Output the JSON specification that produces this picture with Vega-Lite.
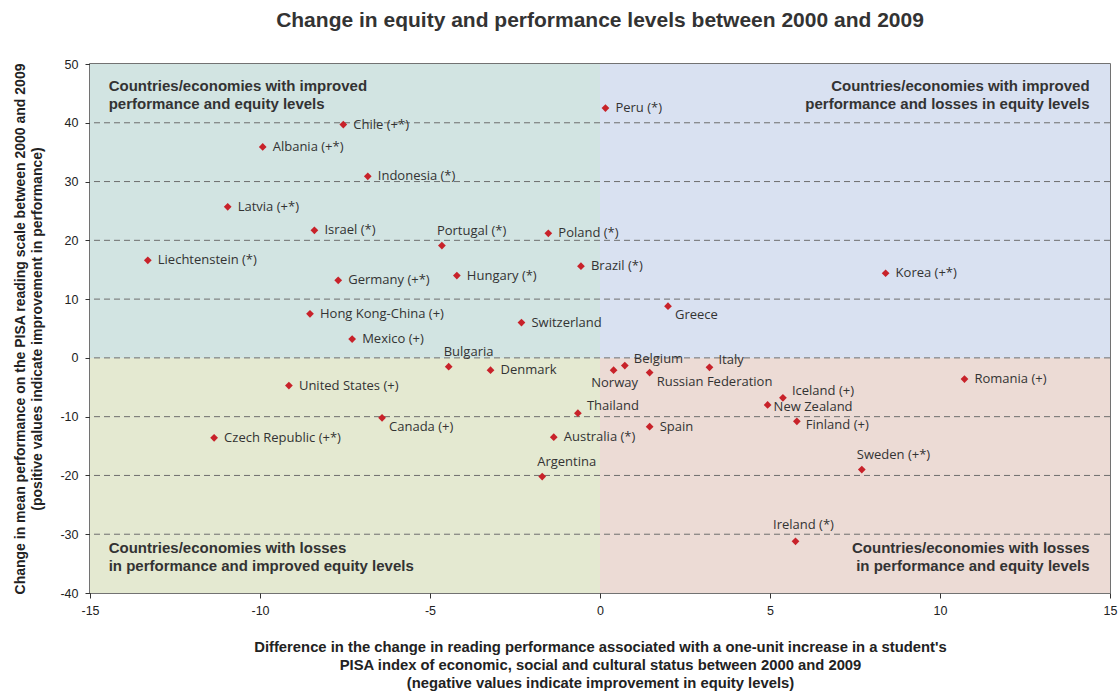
{
  "$schema": "https://vega.github.io/schema/vega-lite/v6.json",
  "autosize": "none",
  "width": 1020,
  "height": 529,
  "padding": {"left": 90, "top": 64, "right": 9, "bottom": 100},
  "background": "white",
  "config": {
    "view": {"stroke": "#444", "strokeWidth": 1.5},
    "font": "Liberation Sans"
  },
  "title": {
    "text": "Change in equity and performance levels between 2000 and 2009",
    "fontSize": 21,
    "fontWeight": "bold",
    "font": "Liberation Sans",
    "color": "#333",
    "offset": 27,
    "anchor": "middle"
  },
  "datasets": {
    "countries": [
      {"country": "Chile (+*)", "equity": -7.55, "perf": 39.7},
      {"country": "Albania (+*)", "equity": -9.92, "perf": 35.9},
      {"country": "Indonesia (*)", "equity": -6.83, "perf": 30.9},
      {"country": "Latvia (+*)", "equity": -10.95, "perf": 25.7},
      {"country": "Israel (*)", "equity": -8.4, "perf": 21.7},
      {"country": "Portugal (*)", "equity": -4.65, "perf": 19.1},
      {"country": "Poland (*)", "equity": -1.52, "perf": 21.2},
      {"country": "Liechtenstein (*)", "equity": -13.3, "perf": 16.6},
      {"country": "Brazil (*)", "equity": -0.56, "perf": 15.6},
      {"country": "Germany (+*)", "equity": -7.7, "perf": 13.2},
      {"country": "Hungary (*)", "equity": -4.21, "perf": 14.0},
      {"country": "Hong Kong-China (+)", "equity": -8.53, "perf": 7.5},
      {"country": "Switzerland", "equity": -2.31, "perf": 6.0},
      {"country": "Mexico (+)", "equity": -7.29, "perf": 3.2},
      {"country": "Peru (*)", "equity": 0.16, "perf": 42.5},
      {"country": "Korea (+*)", "equity": 8.4, "perf": 14.4},
      {"country": "Greece", "equity": 2.0, "perf": 8.8},
      {"country": "Bulgaria", "equity": -4.45, "perf": -1.5},
      {"country": "Denmark", "equity": -3.22, "perf": -2.1},
      {"country": "United States (+)", "equity": -9.15, "perf": -4.7},
      {"country": "Canada (+)", "equity": -6.41, "perf": -10.2},
      {"country": "Czech Republic (+*)", "equity": -11.35, "perf": -13.6},
      {"country": "Thailand", "equity": -0.65, "perf": -9.4},
      {"country": "Australia (*)", "equity": -1.36, "perf": -13.5},
      {"country": "Argentina", "equity": -1.7, "perf": -20.2},
      {"country": "Norway", "equity": 0.4, "perf": -2.1},
      {"country": "Belgium", "equity": 0.73, "perf": -1.3},
      {"country": "Russian Federation", "equity": 1.46, "perf": -2.5},
      {"country": "Italy", "equity": 3.22, "perf": -1.6},
      {"country": "Romania (+)", "equity": 10.72, "perf": -3.6},
      {"country": "Iceland (+)", "equity": 5.38, "perf": -6.8},
      {"country": "New Zealand", "equity": 4.93, "perf": -8.0},
      {"country": "Finland (+)", "equity": 5.79, "perf": -10.8},
      {"country": "Spain", "equity": 1.46, "perf": -11.7},
      {"country": "Sweden (+*)", "equity": 7.7, "perf": -19.0},
      {"country": "Ireland (*)", "equity": 5.75, "perf": -31.2}
    ],
    "quadrants": [
      {"q": "TL", "x1": -15, "x2": 0, "y1": 0, "y2": 50},
      {"q": "TR", "x1": 0, "x2": 15, "y1": 0, "y2": 50},
      {"q": "BL", "x1": -15, "x2": 0, "y1": -40, "y2": 0},
      {"q": "BR", "x1": 0, "x2": 15, "y1": -40, "y2": 0}
    ],
    "grid": [{"v": 40}, {"v": 30}, {"v": 20}, {"v": 10}, {"v": 0}, {"v": -10}, {"v": -20}, {"v": -30}],
    "qlabels": [
      {"side": "left", "x": -14.45, "y": 46.2, "label": "Countries/economies with improved\nperformance and equity levels"},
      {"side": "right", "x": 14.4, "y": 46.2, "label": "Countries/economies with improved\nperformance and losses in equity levels"},
      {"side": "left", "x": -14.45, "y": -32.3, "label": "Countries/economies with losses\nin performance and improved equity levels"},
      {"side": "right", "x": 14.4, "y": -32.3, "label": "Countries/economies with losses\nin performance and equity levels"}
    ]
  },
  "encoding": {
    "x": {
      "type": "quantitative",
      "scale": {"domain": [-15, 15], "nice": false, "zero": false},
      "axis": {
        "values": [-15, -10, -5, 0, 5, 10, 15],
        "labelExpr": "'' + datum.value",
        "grid": false,
        "domain": false,
        "tickColor": "#333",
        "tickSize": 5,
        "labelFontSize": 12.5,
        "labelColor": "#222",
        "labelPadding": 6,
        "labelFlush": false,
        "title": [
          "Difference in the change in reading performance associated with a one-unit increase in a student's",
          "PISA index of economic, social and cultural status between 2000 and 2009",
          "(negative values indicate improvement in equity levels)"
        ],
        "titleFontSize": 14.8,
        "titleFontWeight": "bold",
        "titleFont": "Liberation Sans",
        "titleColor": "#222",
        "titlePadding": 23,
        "titleLineHeight": 18
      }
    },
    "y": {
      "type": "quantitative",
      "scale": {"domain": [-40, 50], "nice": false, "zero": false},
      "axis": {
        "values": [-40, -30, -20, -10, 0, 10, 20, 30, 40, 50],
        "labelExpr": "'' + datum.value",
        "grid": false,
        "domain": false,
        "tickColor": "#333",
        "tickSize": 5,
        "labelFontSize": 12.5,
        "labelColor": "#222",
        "labelPadding": 7,
        "labelFlush": false,
        "title": [
          "Change in mean performance on the PISA reading scale between 2000 and 2009",
          "(positive values indicate improvement in performance)"
        ],
        "titleFontSize": 14,
        "titleFontWeight": "bold",
        "titleFont": "Liberation Sans",
        "titleColor": "#222",
        "titlePadding": 15,
        "titleLineHeight": 17
      }
    }
  },
  "layer": [
    {
      "data": {"name": "quadrants"},
      "mark": {"type": "rect"},
      "encoding": {
        "x": {"field": "x1"},
        "x2": {"field": "x2"},
        "y": {"field": "y1"},
        "y2": {"field": "y2"},
        "color": {
          "field": "q",
          "type": "nominal",
          "scale": {"domain": ["TL", "TR", "BL", "BR"], "range": ["#d2e4e2", "#d9e1f1", "#e4e9d1", "#ecdbd5"]},
          "legend": null
        }
      }
    },
    {
      "data": {"name": "grid"},
      "mark": {"type": "rule", "stroke": "#6e6e6e", "strokeDash": [6, 4], "strokeWidth": 1},
      "encoding": {"y": {"field": "v"}}
    },
    {
      "data": {"name": "qlabels"},
      "transform": [{"filter": "datum.side == 'left'"}],
      "mark": {"type": "text", "align": "left", "baseline": "middle", "lineBreak": "\n", "lineHeight": 18, "fontSize": 15, "fontWeight": "bold", "font": "Liberation Sans", "color": "#333"},
      "encoding": {"x": {"field": "x"}, "y": {"field": "y"}, "text": {"field": "label"}}
    },
    {
      "data": {"name": "qlabels"},
      "transform": [{"filter": "datum.side == 'right'"}],
      "mark": {"type": "text", "align": "right", "baseline": "middle", "lineBreak": "\n", "lineHeight": 18, "fontSize": 15, "fontWeight": "bold", "font": "Liberation Sans", "color": "#333"},
      "encoding": {"x": {"field": "x"}, "y": {"field": "y"}, "text": {"field": "label"}}
    },
    {
      "data": {"name": "countries"},
      "mark": {"type": "point", "shape": "diamond", "filled": true, "size": 60, "color": "#c8222a", "opacity": 1},
      "encoding": {"x": {"field": "equity"}, "y": {"field": "perf"}}
    },
    {
      "data": {"name": "countries"},
      "transform": [{"filter": {"not": {"field": "country", "oneOf": ["Portugal (*)", "Bulgaria", "Argentina", "Sweden (+*)", "Ireland (*)", "Canada (+)", "Greece", "New Zealand", "Russian Federation", "Norway", "Thailand", "Iceland (+)", "Italy", "Belgium", "Finland (+)"]}}}],
      "mark": {"type": "text", "align": "left", "baseline": "middle", "dx": 10, "dy": 0, "fontSize": 13, "font": "Open Sans", "color": "#333"},
      "encoding": {"x": {"field": "equity"}, "y": {"field": "perf"}, "text": {"field": "country"}}
    },
    {
      "data": {"name": "countries"},
      "transform": [{"filter": {"field": "country", "oneOf": ["Finland (+)"]}}],
      "mark": {"type": "text", "align": "left", "baseline": "middle", "dx": 9, "dy": 4, "fontSize": 13, "font": "Open Sans", "color": "#333"},
      "encoding": {"x": {"field": "equity"}, "y": {"field": "perf"}, "text": {"field": "country"}}
    },
    {
      "data": {"name": "countries"},
      "transform": [{"filter": {"field": "country", "oneOf": ["Thailand", "Iceland (+)", "Italy", "Belgium"]}}],
      "mark": {"type": "text", "align": "left", "baseline": "middle", "dx": 9, "dy": -7, "fontSize": 13, "font": "Open Sans", "color": "#333"},
      "encoding": {"x": {"field": "equity"}, "y": {"field": "perf"}, "text": {"field": "country"}}
    },
    {
      "data": {"name": "countries"},
      "transform": [{"filter": {"field": "country", "oneOf": ["Canada (+)", "Greece", "Russian Federation"]}}],
      "mark": {"type": "text", "align": "left", "baseline": "middle", "dx": 7, "dy": 9, "fontSize": 13, "font": "Open Sans", "color": "#333"},
      "encoding": {"x": {"field": "equity"}, "y": {"field": "perf"}, "text": {"field": "country"}}
    },
    {
      "data": {"name": "countries"},
      "transform": [{"filter": {"field": "country", "oneOf": ["New Zealand"]}}],
      "mark": {"type": "text", "align": "left", "baseline": "middle", "dx": 6, "dy": 2, "fontSize": 13, "font": "Open Sans", "color": "#333"},
      "encoding": {"x": {"field": "equity"}, "y": {"field": "perf"}, "text": {"field": "country"}}
    },
    {
      "data": {"name": "countries"},
      "transform": [{"filter": {"field": "country", "oneOf": ["Norway"]}}],
      "mark": {"type": "text", "align": "center", "baseline": "middle", "dx": 1, "dy": 13, "fontSize": 13, "font": "Open Sans", "color": "#333"},
      "encoding": {"x": {"field": "equity"}, "y": {"field": "perf"}, "text": {"field": "country"}}
    },
    {
      "data": {"name": "countries"},
      "transform": [{"filter": {"field": "country", "oneOf": ["Portugal (*)", "Bulgaria", "Argentina", "Sweden (+*)"]}}],
      "mark": {"type": "text", "align": "left", "baseline": "middle", "dx": -5, "dy": -15, "fontSize": 13, "font": "Open Sans", "color": "#333"},
      "encoding": {"x": {"field": "equity"}, "y": {"field": "perf"}, "text": {"field": "country"}}
    },
    {
      "data": {"name": "countries"},
      "transform": [{"filter": {"field": "country", "oneOf": ["Ireland (*)"]}}],
      "mark": {"type": "text", "align": "center", "baseline": "middle", "dx": 8, "dy": -16, "fontSize": 13, "font": "Open Sans", "color": "#333"},
      "encoding": {"x": {"field": "equity"}, "y": {"field": "perf"}, "text": {"field": "country"}}
    }
  ]
}
